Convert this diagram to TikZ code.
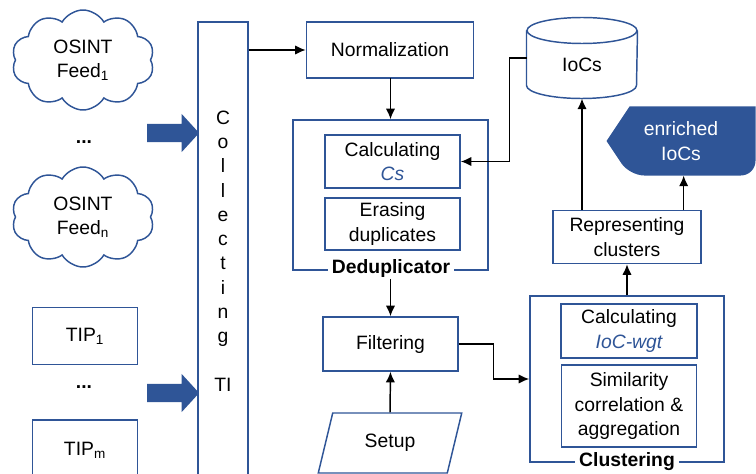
\documentclass[tikz,border=0pt]{standalone}
\usepackage{fontspec}
\setmainfont{Liberation Sans}
\usetikzlibrary{shapes.geometric,shapes.symbols,shapes.arrows,arrows.meta,backgrounds}
\definecolor{blu}{RGB}{47,85,151}
\tikzset{every picture/.style={line width=0.75pt}}
\tikzset{
  blkbox/.style={draw=blu, line width=1.1pt, fill=white, align=center, inner sep=0pt},
  grpbox/.style={draw=blu, line width=1.1pt, inner sep=0pt},
  grplabel/.style={fill=white, inner xsep=3pt, inner ysep=1pt, font=\fontsize{14.5}{18.2}\selectfont\bfseries},
  feedcloud/.style={cloud, cloud puffs=10, cloud puff arc=120, draw=blu, line width=1.1pt, align=center, minimum width=107pt, minimum height=75pt, inner sep=0pt},
  bigarrow/.style={single arrow, fill=blu, minimum height=39pt, minimum width=27.75pt, inner xsep=0pt, inner ysep=6.4pt, single arrow head extend=7.5pt, single arrow tip angle=95},
  flow/.style={-{Latex[length=8pt,width=7pt]}, line width=1.1pt},
}

\begin{document}
\begin{tikzpicture}[x=0.75pt,y=0.75pt,yscale=-1,xscale=1,font=\fontsize{14.5}{18.2}\selectfont]
\clip (0,0) rectangle (756,474);

%Shape: Clouds and TIPs
\node[feedcloud] (osint1) at (83,60) {OSINT\\Feed\textsubscript{1}};
\node (dotsA) at (84,142) {\textbf{...}};
\node[feedcloud] (osintn) at (83,217) {OSINT\\Feed\textsubscript{n}};
\node[blkbox, minimum width=78.75pt, minimum height=42.75pt] (tip1) at (85,336) {TIP\textsubscript{1}};
\node (dotsB) at (84,387) {\textbf{...}};
\node[blkbox, minimum width=78.75pt, minimum height=45pt] (tipm) at (85,450) {TIP\textsubscript{m}};

%Shape: Block arrows
\node[bigarrow] (inA) at (169,133) {};
\node[bigarrow] (inB) at (169,393) {};

%Shape: Collecting column
\node[blkbox, minimum width=37.5pt, minimum height=343.5pt] (coll) at (223,251) {C\\o\\l\\l\\e\\c\\t\\i\\n\\g\\[18.2pt]TI};

%Shape: Deduplication
\node[blkbox, minimum width=125.25pt, minimum height=42pt] (norm) at (390,50) {Normalization};
\node[grpbox, minimum width=146.25pt, minimum height=112.5pt] (dedup) at (390.5,195) {};
\node[blkbox, minimum width=101.25pt, minimum height=39.75pt] (cs) at (392.5,161.5) {Calculating\\{\color{blu}\itshape Cs}};
\node[blkbox, minimum width=101.25pt, minimum height=39pt] (erase) at (392.5,224) {Erasing\\duplicates};
\node[grplabel] (dlab) at (391,268) {Deduplicator};
\node[blkbox, minimum width=101.25pt, minimum height=40.5pt] (filt) at (390.5,344) {Filtering};
\node[blkbox, trapezium, trapezium left angle=70, trapezium right angle=110, trapezium stretches=true, minimum width=108pt, minimum height=45pt] (setup) at (390,443) {Setup};

%Shape: IoC store (cylinder)
\node[minimum width=82.5pt, minimum height=60pt, inner sep=0pt, text height=24pt, text depth=3pt] (ioc) at (582,58) {IoCs};
\draw[blu, line width=1.1pt] ([yshift=9.75pt]ioc.north) ellipse [x radius=41.25pt, y radius=9.75pt];
\draw[blu, line width=1.1pt] ([yshift=9.75pt]ioc.north west) -- ([yshift=-9.75pt]ioc.south west) arc[start angle=180, end angle=0, x radius=41.25pt, y radius=9.75pt] -- ([yshift=9.75pt]ioc.north east);

%Shape: enriched output
\node[text=white, align=center, minimum width=111pt, minimum height=51pt, inner sep=0pt] (enr) at (681,141) {enriched\\IoCs};
\begin{scope}[on background layer]
\fill[blu] (enr.west) -- ([xshift=17.25pt]enr.north west) -- (enr.north east) [rounded corners=11pt] -- (enr.south east) -- ([xshift=17.25pt]enr.south west) [sharp corners] -- cycle;
\end{scope}
\node[blkbox, minimum width=111pt, minimum height=39.75pt] (repr) at (627,237) {Representing\\clusters};

%Shape: Clustering
\node[grpbox, minimum width=145.5pt, minimum height=124.5pt] (clust) at (627,379) {};
\node[blkbox, minimum width=102pt, minimum height=40.5pt] (cwgt) at (629,331) {Calculating\\{\color{blu}\itshape IoC-wgt}};
\node[blkbox, minimum width=101.25pt, minimum height=61.5pt] (sim) at (629,406) {Similarity\\correlation \&\\aggregation};
\node[grplabel] (clab) at (627,462) {Clustering};

%Straight Lines
\draw[flow] (coll.east |- norm.west) -- (norm.west);
\draw[flow] (norm.south) -- (dedup.north |- norm.south) -- (dedup.north);
\draw[flow] (dlab.south -| filt.north) -- (filt.north);
\draw[flow] (setup.north) -- (filt.south);
\draw[flow] (filt.east) -- ++(35,0) |- (clust.west);
\draw[flow] (ioc.west) -- ++(-17,0) |- (cs.east);
\draw[flow] (clust.north) -- (repr.south);
\draw[flow] (repr.north -| ioc.south) -- (ioc.south);
\draw[flow] ([xshift=2pt]repr.north -| enr.south) -- ([xshift=2pt]enr.south);

\end{tikzpicture}
\end{document}
